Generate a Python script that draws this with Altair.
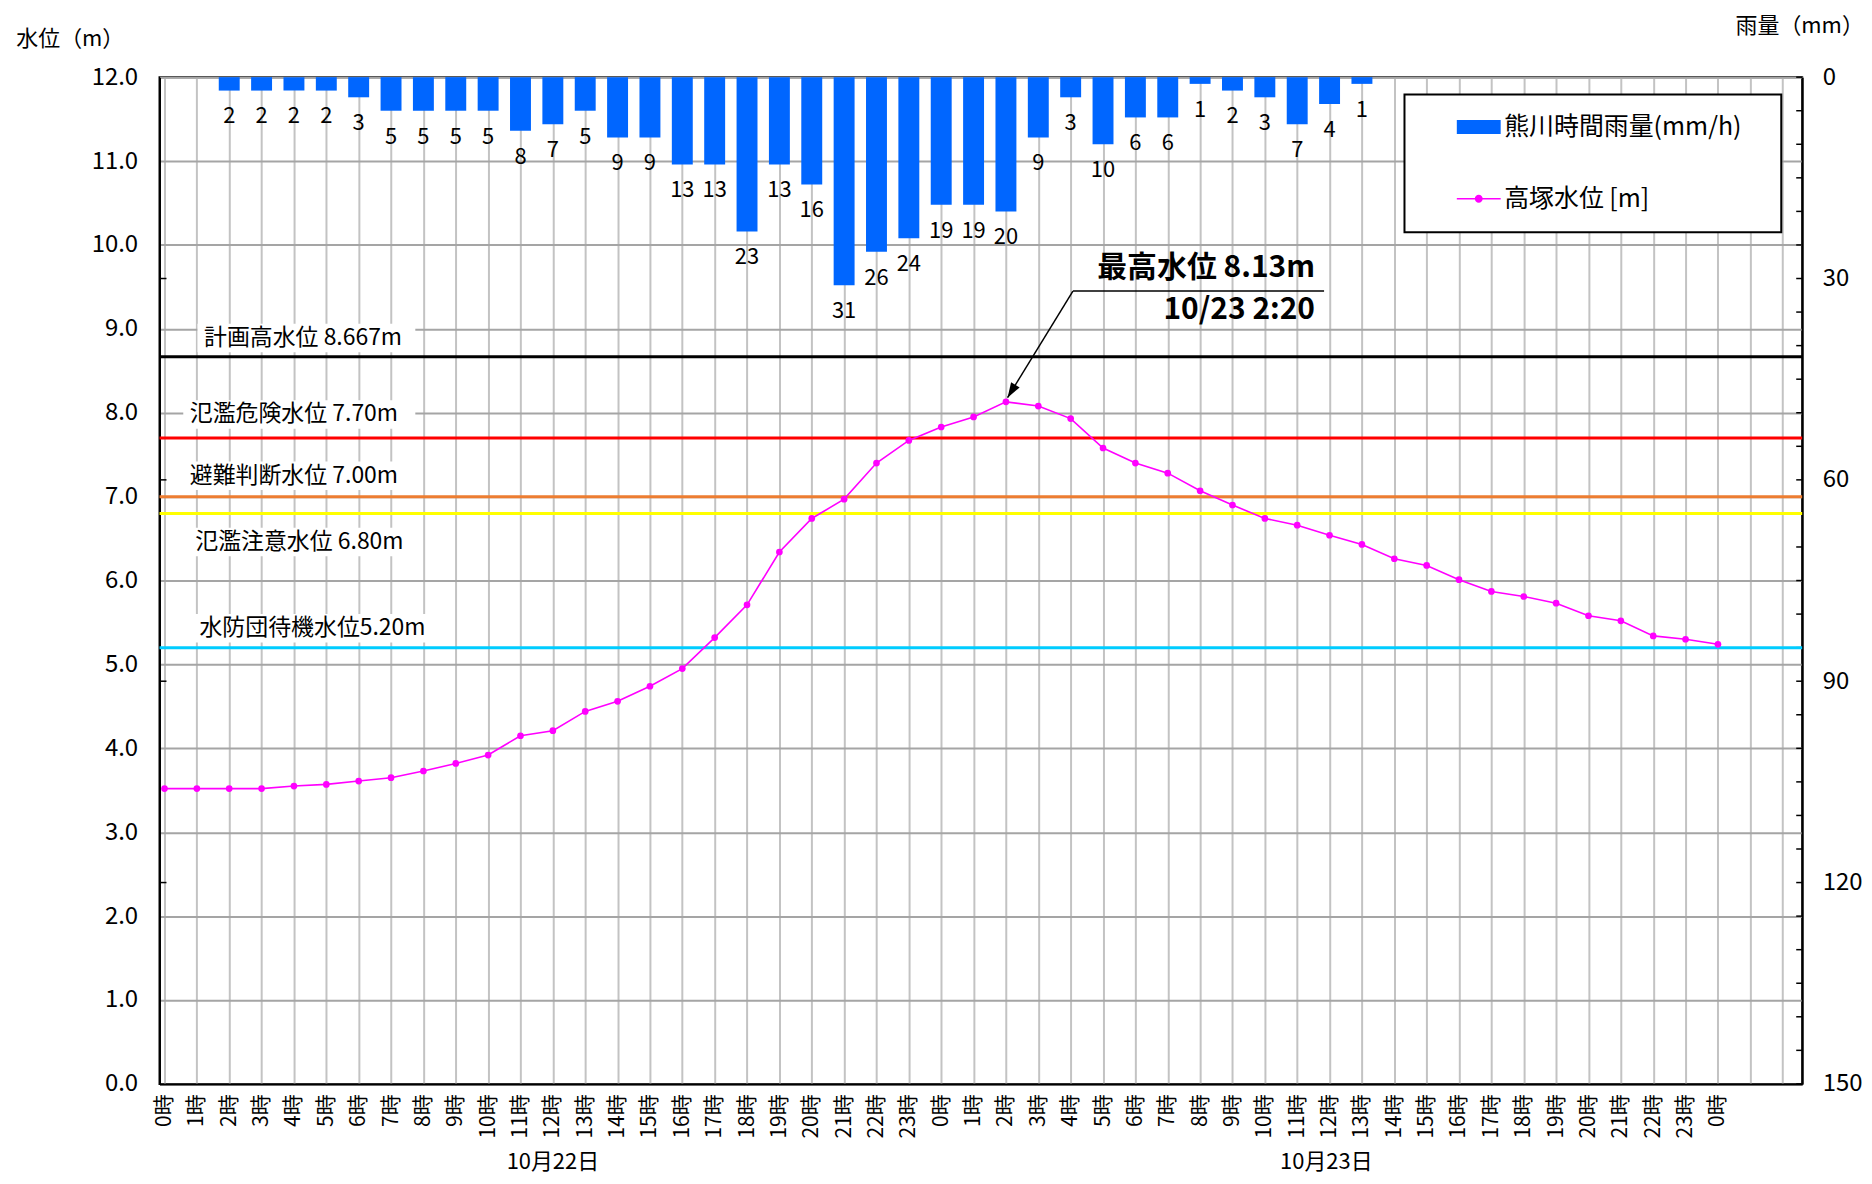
import altair as alt
import pandas as pd

CJK = "Noto Sans CJK JP"
NUM = "Liberation Sans Narrow, Noto Sans CJK JP"

# ---------------- data ----------------
hours = list(range(49))
hour_labels = ["0時", "1時", "2時", "3時", "4時", "5時", "6時", "7時", "8時", "9時", "10時", "11時",
               "12時", "13時", "14時", "15時", "16時", "17時", "18時", "19時", "20時", "21時", "22時", "23時",
               "0時", "1時", "2時", "3時", "4時", "5時", "6時", "7時", "8時", "9時", "10時", "11時",
               "12時", "13時", "14時", "15時", "16時", "17時", "18時", "19時", "20時", "21時", "22時", "23時",
               "0時"]
water_level = [3.52, 3.52, 3.52, 3.52, 3.55, 3.57, 3.61, 3.65, 3.73, 3.82, 3.92, 4.15,
               4.21, 4.44, 4.56, 4.74, 4.95, 5.32, 5.71, 6.34, 6.74, 6.97, 7.40, 7.67,
               7.83, 7.95, 8.13, 8.08, 7.93, 7.58, 7.40, 7.28, 7.07, 6.90, 6.74, 6.66,
               6.54, 6.43, 6.26, 6.18, 6.01, 5.87, 5.81, 5.73, 5.58, 5.52, 5.34, 5.30,
               5.24]

rain_hours = list(range(2, 38))
rain_mm = [2, 2, 2, 2, 3, 5, 5, 5, 5, 8, 7, 5, 9, 9, 13, 13, 23, 13, 16, 31,
           26, 24, 19, 19, 20, 9, 3, 10, 6, 6, 1, 2, 3, 7, 4, 1]

date_labels = ["10月22日", "10月23日"]
date_pos = [12.0, 35.9]

thr_levels = [8.667, 7.70, 7.00, 6.80, 5.20]
thr_colors = ["#000000", "#FF0000", "#ED7D31", "#FFFF00", "#00CCFF"]
thr_labels = ["計画高水位 8.667m", "氾濫危険水位 7.70m", "避難判断水位 7.00m",
              "氾濫注意水位 6.80m", "水防団待機水位5.20m"]
thr_label_x = [1.22, 0.78, 0.78, 0.95, 1.08]
thr_label_y = [8.89, 7.98, 7.25, 6.46, 5.43]
thr_box_x2 = [7.75, 7.75, 7.75, 7.75, 8.45]

peak_texts = ["最高水位 8.13m", "10/23 2:20"]
peak_text_h = [35.55, 35.55]
peak_text_v = [9.72, 9.22]
leader_h = [28.07, 35.83]
leader_v = 9.45
peak_h = 26.05
peak_v = 8.18

legend_names = ["熊川時間雨量(mm/h)", "高塚水位 [m]"]
legend_colors = ["#0066FF", "#FF00FF"]
legend_paths = ["M-2.2,-0.7H2.2V0.7H-2.2Z",
                "M-2.2,-0.08H2.2V0.08H-2.2Z M0.4,0A0.4,0.4,0,1,1,-0.4,0A0.4,0.4,0,1,1,0.4,0Z"]

rain_axis_values = [0, 30, 60, 90, 120, 150]
rain_minor_ticks = list(range(0, 155, 5))
rain_left_ticks = [30, 60, 90, 120]
water_axis_values = list(range(13))

W, H = 1648, 1010

# ---------------- frames ----------------
water_df = pd.DataFrame({"h": hours, "v": water_level})
rain_df = pd.DataFrame({"h": rain_hours, "r": rain_mm})
thr_df = pd.DataFrame({
    "level": thr_levels, "color": thr_colors, "label": thr_labels,
    "lx": thr_label_x, "ly": thr_label_y,
    "bx1": [x - 0.2 for x in thr_label_x], "bx2": thr_box_x2,
    "by1": [y - 0.17 for y in thr_label_y], "by2": [y + 0.17 for y in thr_label_y],
})
date_df = pd.DataFrame({"h": date_pos, "t": date_labels})
peak_df = pd.DataFrame({"h": peak_text_h, "v": peak_text_v, "t": peak_texts})
under_df = pd.DataFrame({"h": [leader_h[0]], "h2": [leader_h[1]], "v": [leader_v]})
arrow_df = pd.DataFrame({"h": [leader_h[0]], "v": [leader_v], "h2": [peak_h], "v2": [peak_v]})
tip_df = pd.DataFrame({"h": [peak_h], "v": [peak_v]})
legend_df = pd.DataFrame({"series": legend_names, "h": [0, 0], "v": [0, 0]})
minor_df = pd.DataFrame({"r": rain_minor_ticks})
left_tick_df = pd.DataFrame({"r": rain_left_ticks})

# ---------------- scales / axes ----------------
xscale = alt.Scale(domain=[0, 50.45], nice=False, zero=False)
arr = "[" + ",".join("'" + s + "'" for s in hour_labels) + "]"
xaxis = alt.Axis(values=list(range(51)), labelExpr=f"datum.value <= 48 ? {arr}[datum.value] : ''",
                 grid=True, gridColor="#C3C3C3", gridWidth=2, ticks=False,
                 domainColor="black", domainWidth=2, labelAngle=270, labelFont=CJK,
                 labelFontSize=21, labelPadding=10, labelOverlap=False, labelBound=False,
                 labelColor="black", title=None)
wscale = alt.Scale(domain=[0, 12], nice=False, zero=True)
waxis = alt.Axis(orient="left", values=water_axis_values, format=".1f", grid=True,
                 gridColor="#A5A5A5", gridWidth=2, ticks=False, domainColor="black", domainWidth=2,
                 labelFont=NUM, labelFontSize=24, labelPadding=22, labelColor="black",
                 title="水位（m）", titleAngle=0, titleX=-90, titleY=-38.5, titleAlign="center",
                 titleBaseline="middle", titleFont=CJK, titleFontSize=22, titleFontWeight="normal",
                 titleColor="black")
rscale = alt.Scale(domain=[0, 150], reverse=True, nice=False, zero=True)
raxis = alt.Axis(orient="right", values=rain_axis_values, grid=False, ticks=False,
                 domainColor="black", domainWidth=2, labelFont=NUM, labelFontSize=24,
                 labelPadding=20, labelColor="black",
                 title="雨量（mm）", titleAngle=0, titleX=-3, titleY=-51.5, titleAlign="center",
                 titleBaseline="middle", titleFont=CJK, titleFontSize=22, titleFontWeight="normal",
                 titleColor="black")


def X(f="h"):
    return alt.X(f"{f}:Q", scale=xscale, axis=xaxis)


def YW(f="v"):
    return alt.Y(f"{f}:Q", scale=wscale, axis=waxis)


def YR(f="r"):
    return alt.Y(f"{f}:Q", scale=rscale, axis=raxis)


# ---------------- rain group ----------------
bars = alt.Chart(rain_df).mark_bar(color="#0066FF", size=21, orient="vertical").encode(
    x=X(), y=YR())
bar_text = alt.Chart(rain_df).mark_text(dy=26, font=NUM, fontSize=22, color="black",
                                         baseline="middle").encode(x=X(), y=YR(), text="r:Q")
ticks_right = alt.Chart(minor_df).mark_rule(color="black", strokeWidth=1.5).encode(
    y=YR(), x=alt.value(W - 6), x2=alt.value(W))
ticks_left = alt.Chart(left_tick_df).mark_rule(color="black", strokeWidth=1.5).encode(
    y=YR(), x=alt.value(0), x2=alt.value(7))
rain_layer = alt.layer(bars, bar_text, ticks_right, ticks_left)

# ---------------- water group ----------------
thr_rules = [
    alt.Chart(thr_df.iloc[[i]]).mark_rule(color=thr_colors[i], strokeWidth=3).encode(y=YW("level"))
    for i in range(len(thr_levels))
]
boxes = alt.Chart(thr_df).mark_rect(color="white").encode(
    x=X("bx1"), x2="bx2", y=YW("by1"), y2="by2")
thr_text = alt.Chart(thr_df).mark_text(align="left", baseline="middle", font=CJK, fontSize=23,
                                        color="black").encode(x=X("lx"), y=YW("ly"), text="label:N")
date_text = alt.Chart(date_df).mark_text(align="center", baseline="middle", font=CJK, fontSize=22,
                                          color="black").encode(x=X(), y=alt.value(H + 78), text="t:N")
peak_text = alt.Chart(peak_df).mark_text(align="right", baseline="middle", font=CJK, fontSize=30,
                                          fontWeight="bold", color="black").encode(
    x=X(), y=YW(), text="t:N")
underline = alt.Chart(under_df).mark_rule(color="black", strokeWidth=1.5).encode(
    x=X(), x2="h2", y=YW())
arrow = alt.Chart(arrow_df).mark_rule(color="black", strokeWidth=1.5).encode(
    x=X(), y=YW(), x2="h2", y2="v2")
tip = alt.Chart(tip_df).mark_point(shape="M0,0L-0.5,1.5L0.5,1.5Z", angle=211.4, size=400,
                                   filled=True, color="black", opacity=1).encode(x=X(), y=YW())
line = alt.Chart(water_df).mark_line(color="#FF00FF", strokeWidth=1.6).encode(x=X(), y=YW())
pts = alt.Chart(water_df).mark_point(color="#FF00FF", filled=True, size=45, opacity=1).encode(
    x=X(), y=YW())

leg = alt.Legend(orient="none", legendX=1249, legendY=17.5, title="\u3000", titleOrient="right",
                 titlePadding=20, titleFontSize=12, fillColor="white",
                 strokeColor="black", padding=20, symbolSize=400, symbolOffset=42,
                 labelOffset=13, rowPadding=46, labelFont=CJK, labelFontSize=25, labelLimit=500,
                 labelColor="black", symbolOpacity=1, symbolStrokeWidth=0)
legend_pts = alt.Chart(legend_df).mark_point(filled=True, opacity=0).encode(
    x=X(), y=YW(),
    color=alt.Color("series:N", scale=alt.Scale(domain=legend_names, range=legend_colors), legend=leg),
    shape=alt.Shape("series:N", scale=alt.Scale(domain=legend_names, range=legend_paths), legend=leg),
)

water_layer = alt.layer(*thr_rules, boxes, thr_text, date_text, peak_text, underline, arrow, tip,
                        line, pts, legend_pts)

chart = alt.layer(rain_layer, water_layer).resolve_scale(y="independent").properties(
    width=W, height=H, autosize="none", background="white",
    padding={"left": 152, "top": 67.5, "right": 62, "bottom": 89},
).configure_view(stroke="black", strokeWidth=2).configure_legend(strokeWidth=2)

chart.save("out.html", embed_options={"renderer": "svg", "actions": False})
